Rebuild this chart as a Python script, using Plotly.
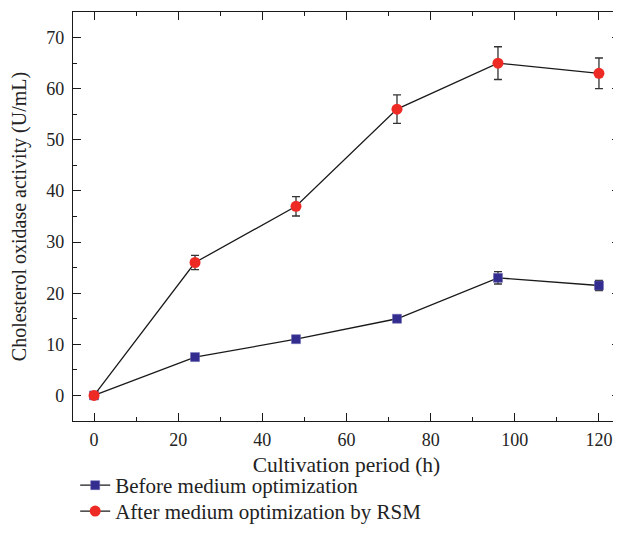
import plotly.graph_objects as go

hours = [0, 24, 48, 72, 96, 120]
before = [0, 7.5, 11, 15, 23, 21.5]
before_err = [0, 0.4, 0.4, 0.4, 1.2, 1.0]
after = [0, 26, 37, 56, 65, 63]
after_err = [0, 1.4, 1.9, 2.8, 3.2, 3.0]

font_family = "Liberation Serif, Times New Roman, serif"

fig = go.Figure()
fig.add_trace(go.Scatter(
    x=hours, y=before, mode="lines+markers", name="Before medium optimization",
    line=dict(color="#1a1a1a", width=1.3),
    marker=dict(symbol="square", size=9, color="#332d8f", line=dict(color="#6a66b0", width=0.5)),
    error_y=dict(type="data", array=before_err, visible=True, color="#333333", thickness=1.3, width=4),
    legend="legend",
))
fig.add_trace(go.Scatter(
    x=hours, y=after, mode="lines+markers", name="After medium optimization by RSM",
    line=dict(color="#1a1a1a", width=1.3),
    marker=dict(symbol="circle", size=11, color="#ee2a24", line=dict(width=0)),
    error_y=dict(type="data", array=after_err, visible=True, color="#333333", thickness=1.3, width=4),
    legend="legend2",
))

axis_common = dict(
    showline=True, linecolor="#1a1a1a", linewidth=1.3, mirror="ticks",
    ticks="inside", ticklen=8, tickwidth=1.2, tickcolor="#1a1a1a",
    showgrid=False, zeroline=False, automargin=False,
    tickfont=dict(family=font_family, size=18, color="#222222"),
)

fig.update_xaxes(
    range=[-5, 125], tickvals=[0, 20, 40, 60, 80, 100, 120],
    minor=dict(ticks="inside", ticklen=4, tickwidth=1.2, tickcolor="#1a1a1a", dtick=10, tick0=0),
    title=dict(text="Cultivation period (h)", font=dict(family=font_family, size=21.5, color="#222222"), standoff=8),
    ticklabelstandoff=2,
    **axis_common,
)
fig.update_yaxes(
    range=[-5, 75], tickvals=[0, 10, 20, 30, 40, 50, 60, 70],
    minor=dict(ticks="inside", ticklen=4, tickwidth=1.2, tickcolor="#1a1a1a", dtick=5, tick0=0),
    title=dict(text="Cholesterol oxidase activity (U/mL)", font=dict(family=font_family, size=20, color="#222222"), standoff=20),
    ticklabelstandoff=4,
    **axis_common,
)

legend_style = dict(
    xanchor="left", yanchor="top",
    font=dict(family=font_family, size=21, color="#222222"),
    bgcolor="rgba(0,0,0,0)",
)

fig.update_layout(
    width=613, height=542,
    margin=dict(l=65, r=1, t=4, b=129),
    paper_bgcolor="white", plot_bgcolor="white",
    showlegend=True,
    legend=dict(x=0.004, y=-0.1076, **legend_style),
    legend2=dict(x=0.004, y=-0.171, **legend_style),
)

fig.write_html("out.html")
